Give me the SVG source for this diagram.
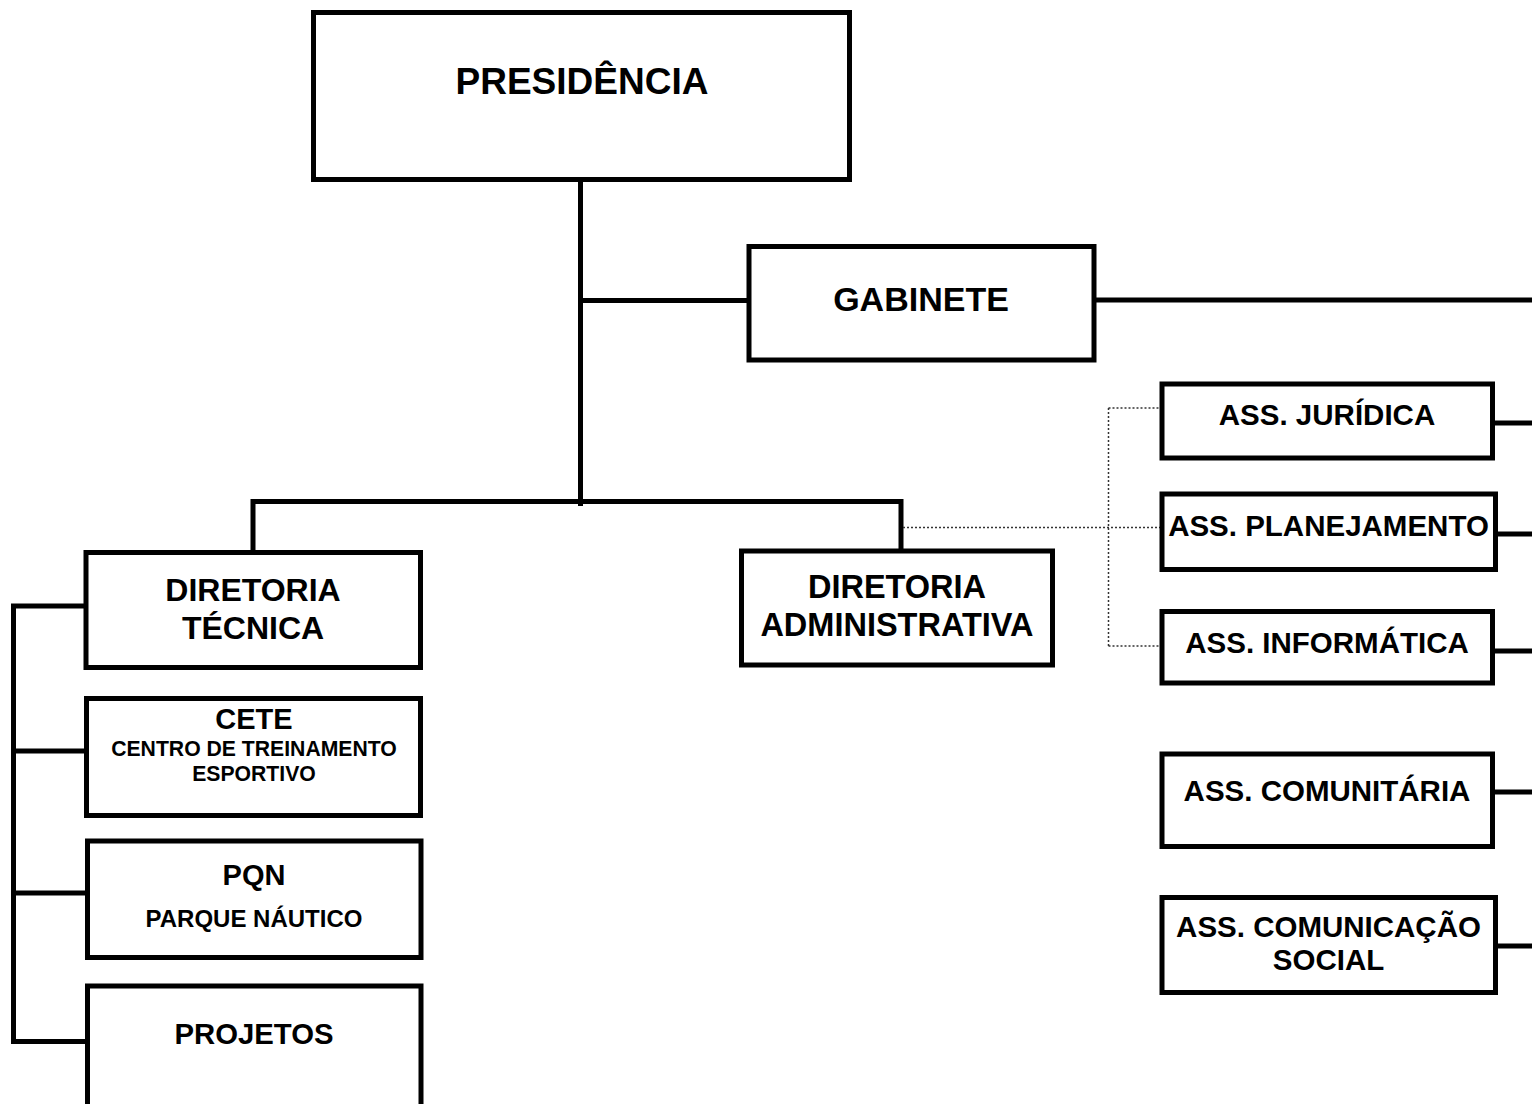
<svg xmlns="http://www.w3.org/2000/svg" width="1532" height="1104" viewBox="0 0 1532 1104">
<style>
.box{fill:#fff;stroke:#000;stroke-width:5}
.ln{fill:none;stroke:#000;stroke-width:5}
.dot{fill:none;stroke:#333;stroke-width:1.5;stroke-dasharray:2 2}
text{font-family:"Liberation Sans",Arial,sans-serif;font-weight:bold;fill:#000;text-anchor:middle}
.ass{font-size:29.5px}
</style>
<rect width="1532" height="1104" fill="#fff"/>
<g id="connectors">
<path class="ln" d="M580.5 180V506"/>
<path class="ln" d="M580.5 300.5H749"/>
<path class="ln" d="M1094 300H1532"/>
<path class="ln" d="M253 552V501.5H901V551"/>
<path class="ln" d="M86 606H13.5V1041.5H87"/>
<path class="ln" d="M13.5 751H86"/>
<path class="ln" d="M13.5 893H87"/>
<path class="ln" d="M1492.5 423H1532"/>
<path class="ln" d="M1495.5 534H1532"/>
<path class="ln" d="M1492.5 651H1532"/>
<path class="ln" d="M1492.5 792H1532"/>
<path class="ln" d="M1495.5 946H1532"/>
<path class="dot" d="M903 527.5H1160"/>
<path class="dot" d="M1108.5 408V646"/>
<path class="dot" d="M1108.5 408H1160"/>
<path class="dot" d="M1108.5 646H1160"/>
</g>
<g id="presidencia"><rect class="box" x="313.5" y="12.5" width="536" height="167"/><text x="582" y="94" font-size="37">PRESIDÊNCIA</text></g>
<g id="gabinete"><rect class="box" x="749" y="246.5" width="345" height="113.5"/><text x="921" y="311" font-size="34">GABINETE</text></g>
<g id="diretoria-tecnica"><rect class="box" x="86" y="552.5" width="334.5" height="115"/><text x="253" y="601" font-size="32">DIRETORIA</text><text x="253" y="639" font-size="32">TÉCNICA</text></g>
<g id="diretoria-administrativa"><rect class="box" x="741.5" y="551" width="311" height="114"/><text x="897" y="598" font-size="32.5">DIRETORIA</text><text x="897" y="636" font-size="32.5">ADMINISTRATIVA</text></g>
<g id="cete"><rect class="box" x="86.5" y="698.5" width="334" height="117"/><text x="254" y="729" font-size="29">CETE</text><text x="254" y="756" font-size="21.2">CENTRO DE TREINAMENTO</text><text x="254" y="781" font-size="21.2">ESPORTIVO</text></g>
<g id="pqn"><rect class="box" x="87.5" y="841" width="333.5" height="116.5"/><text x="254" y="885" font-size="29">PQN</text><text x="254" y="927" font-size="24">PARQUE NÁUTICO</text></g>
<g id="projetos"><rect class="box" x="87.5" y="986" width="333.5" height="130"/><text x="254" y="1044" font-size="29.3">PROJETOS</text></g>
<g id="ass-juridica"><rect class="box" x="1162" y="384" width="330.5" height="74"/><text class="ass" x="1327" y="425">ASS. JURÍDICA</text></g>
<g id="ass-planejamento"><rect class="box" x="1162" y="494" width="333.5" height="75.5"/><text class="ass" x="1328.5" y="536">ASS. PLANEJAMENTO</text></g>
<g id="ass-informatica"><rect class="box" x="1162" y="611.5" width="330.5" height="71.5"/><text class="ass" x="1327" y="653">ASS. INFORMÁTICA</text></g>
<g id="ass-comunitaria"><rect class="box" x="1162" y="754" width="330.5" height="92.5"/><text class="ass" x="1327" y="801">ASS. COMUNITÁRIA</text></g>
<g id="ass-comunicacao-social"><rect class="box" x="1162" y="897.5" width="333.5" height="95"/><text class="ass" x="1328.5" y="937">ASS. COMUNICAÇÃO</text><text class="ass" x="1328.5" y="970">SOCIAL</text></g>
</svg>
